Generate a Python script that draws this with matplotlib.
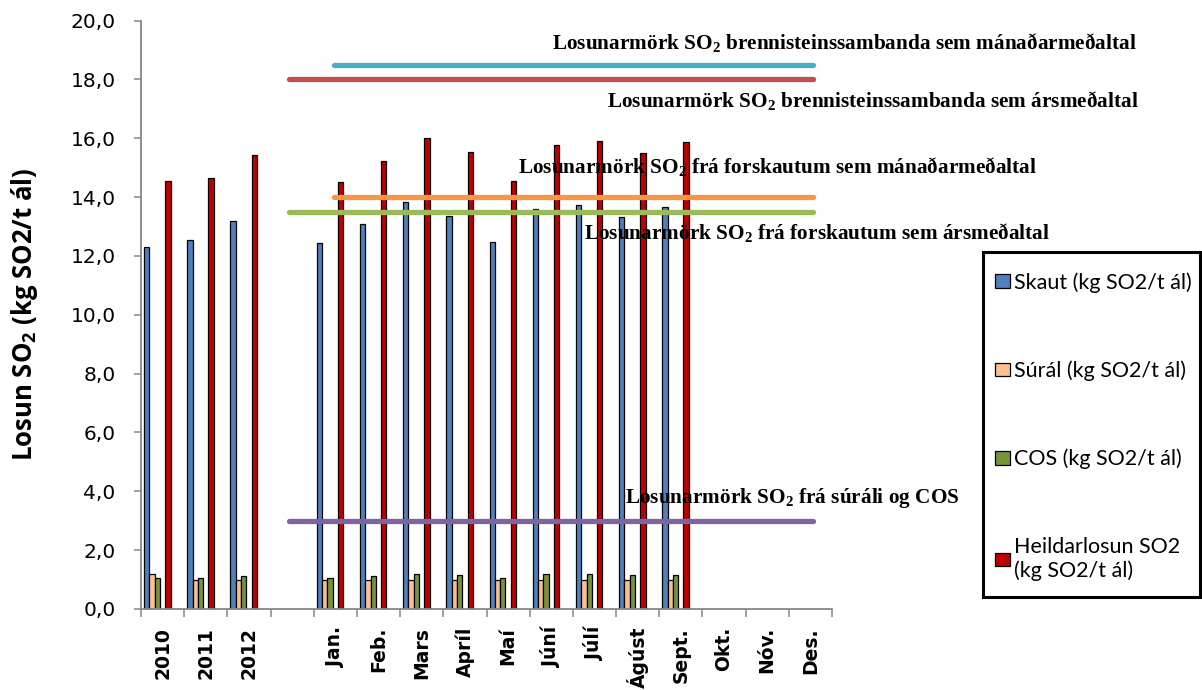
import matplotlib
matplotlib.use("Agg")
import matplotlib.pyplot as plt
from matplotlib.patches import Rectangle
import numpy as np

# ----------------------------------------------------------
# Gögn
# ----------------------------------------------------------
flokkar = ["2010", "2011", "2012", "", "Jan.", "Feb.", "Mars", "Apríl", "Maí",
           "Júní", "Júlí", "Ágúst", "Sept.", "Okt.", "Nóv.", "Des."]

skaut = [12.30, 12.55, 13.19, None, 12.44, 13.09, 13.82, 13.34, 12.47,
         13.61, 13.72, 13.32, 13.67, None, None, None]
sural = [1.18, 0.97, 0.99, None, 0.98, 0.98, 0.98, 0.98, 0.98,
         0.98, 0.98, 0.98, 0.98, None, None, None]
cos = [1.07, 1.07, 1.13, None, 1.06, 1.13, 1.19, 1.15, 1.07,
       1.18, 1.18, 1.15, 1.17, None, None, None]
heild = [14.56, 14.64, 15.43, None, 14.50, 15.22, 16.02, 15.53, 14.56,
         15.78, 15.90, 15.51, 15.87, None, None, None]

radir = ["Skaut (kg SO2/t ál)", "Súrál (kg SO2/t ál)", "COS (kg SO2/t ál)",
         "Heildarlosun SO2\n(kg SO2/t ál)"]

# Losunarmörk (viðmiðunarlínur)
mork = [18.5, 18.0, 14.0, 13.5, 3.0]
mork_texti = [
    "Losunarmörk SO$\\mathregular{_2}$ brennisteinssambanda sem mánaðarmeðaltal",
    "Losunarmörk SO$\\mathregular{_2}$ brennisteinssambanda sem ársmeðaltal",
    "Losunarmörk SO$\\mathregular{_2}$ frá forskautum sem mánaðarmeðaltal",
    "Losunarmörk SO$\\mathregular{_2}$ frá forskautum sem ársmeðaltal",
    "Losunarmörk SO$\\mathregular{_2}$ frá súráli og COS",
]

yticks = np.arange(0, 20.1, 2.0)
ytick_labels = [f"{v:.1f}".replace(".", ",") for v in yticks]

# ----------------------------------------------------------
# Útlit
# ----------------------------------------------------------
litir = ["#4F81BD", "#FAC090", "#77933C", "#C00000"]
mork_litir = ["#4BACC6", "#C0504D", "#F79646", "#9BBB59", "#8064A2"]
mork_x = [(3.98, 15.05), (2.93, 15.05), (3.98, 15.05), (2.93, 15.05), (2.93, 15.05)]
texti_pos = [(552, 42), (607, 100), (518, 166), (584, 233), (625, 498)]

W, H = 1202, 690
fig = plt.figure(figsize=(W / 100, H / 100), dpi=100)
ax = fig.add_axes([141 / W, 81 / H, (832 - 141) / W, (609 - 20.5) / H])

x = np.arange(len(flokkar))
bw = 0.123
offsets = [-0.369, -0.246, -0.123, 0.123]

def hreinsa(v):
    return [np.nan if a is None else a for a in v]

for rod, gildi, litur, off in zip(radir, [skaut, sural, cos, heild], litir, offsets):
    ax.bar(x + off, hreinsa(gildi), width=bw, color=litur, edgecolor="black",
           linewidth=0.9, label=rod, zorder=2)

for m, lit, (x0, x1) in zip(mork, mork_litir, mork_x):
    ax.plot([x0, x1], [m, m], color=lit, lw=3.8, solid_capstyle="round", zorder=3)

for txt, (px, py) in zip(mork_texti, texti_pos):
    fig.text(px / W, 1 - py / H, txt, ha="left", va="center",
             family="Liberation Serif", weight="bold", fontsize=15.3, zorder=5)

ax.set_xlim(-0.5, len(flokkar) - 0.5)
ax.set_ylim(0, 20)
ax.set_yticks(yticks)
ax.set_yticklabels(ytick_labels, family="DejaVu Sans", fontsize=14.5)
ax.set_xticks(x)
ax.set_xticklabels(flokkar, rotation=90, family="DejaVu Sans", weight="bold",
                   fontsize=13.5)
ax.set_xticks(np.arange(-0.5, len(flokkar), 1.0), minor=True)
ax.tick_params(axis="x", which="major", length=0, pad=13)
ax.tick_params(axis="x", which="minor", length=6, width=1.1, color="#868686")
ax.tick_params(axis="y", length=5.4, width=1.1, color="#868686", pad=13)

for s in ["top", "right"]:
    ax.spines[s].set_visible(False)
for s in ["left", "bottom"]:
    ax.spines[s].set_color("#868686")
    ax.spines[s].set_linewidth(1.3)

ax.set_ylabel("Losun SO$\\mathregular{_2}$ (kg SO2/t ál)", family="Open Sans",
              weight="bold", fontsize=18.5, labelpad=22)

# Skýringarrammi teiknaður sér
fig.patches.append(Rectangle((983 / W, 1 - 597 / H), (1200 - 983) / W, (597 - 252) / H,
                             transform=fig.transFigure, fill=False,
                             edgecolor="black", linewidth=2.2, zorder=4))
leg = ax.legend(loc="upper left", bbox_to_anchor=(995 / W, 1 - 272 / H),
                bbox_transform=fig.transFigure, frameon=False, borderaxespad=0,
                prop={"family": "Lato", "size": 15.5}, handlelength=0.7,
                handleheight=0.6, handletextpad=0.2, labelspacing=3.15, borderpad=0)

plt.savefig("out.png", dpi=100)
plt.close()
